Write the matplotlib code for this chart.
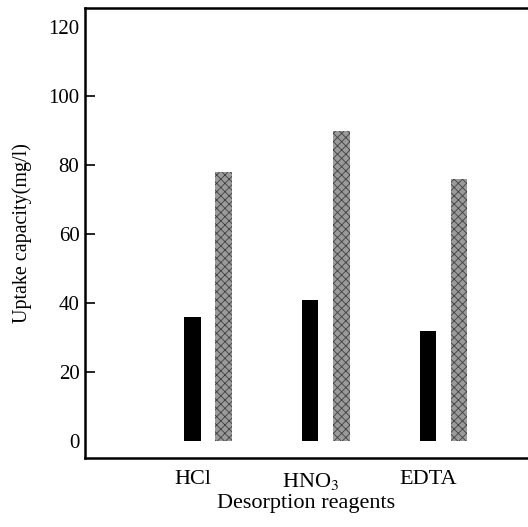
import numpy as np
import matplotlib
matplotlib.use('Agg')
import matplotlib.pyplot as plt

plt.rcParams['font.family'] = 'Liberation Serif'
plt.rcParams['mathtext.fontset'] = 'stix'
plt.rcParams['hatch.linewidth'] = 0.6

# Desorption reagents and uptake capacity (mg/l)
reagents = ['HCl', 'HNO$_3$', 'EDTA']
dark_vals = [36, 41, 32]
grey_vals = [78, 90, 76]
yticks = [0, 20, 40, 60, 80, 100, 120]

fig = plt.figure(figsize=(5.28, 5.27), dpi=100)
ax = fig.add_axes([85/528, 1-458/527, 1-85/528, 450/527])

x = np.arange(len(reagents))
w = 0.14
ax.bar(x, dark_vals, width=w, color='black', zorder=2)
ax.bar(x + 0.265, grey_vals, width=w, facecolor='#9a9a9a', edgecolor='#404040',
       hatch='xxxx', linewidth=0, zorder=2)

ax.set_xlim(-0.913, 2.85)
ax.set_ylim(-4.9, 125.5)
ax.set_xticks(x)
ax.set_xticklabels(reagents, fontsize=16)
ax.set_yticks(yticks)
ax.set_yticklabels([str(v) for v in yticks], fontsize=15)
ax.tick_params(axis='x', length=0, pad=9)
ax.tick_params(axis='y', direction='in', length=7, width=1.2, pad=4)
# no tick marks at 0 and 120
for t in ax.yaxis.get_major_ticks():
    if t.get_loc() in (0, 120):
        t.tick1line.set_visible(False)

ax.spines['right'].set_visible(False)
for s in ['left', 'bottom', 'top']:
    ax.spines[s].set_linewidth(1.8)

ax.set_xlabel('Desorption reagents', fontsize=16, labelpad=2)
ax.set_ylabel('Uptake capacity(mg/l)', fontsize=14.5, labelpad=12)

plt.savefig('out.png', dpi=100)
